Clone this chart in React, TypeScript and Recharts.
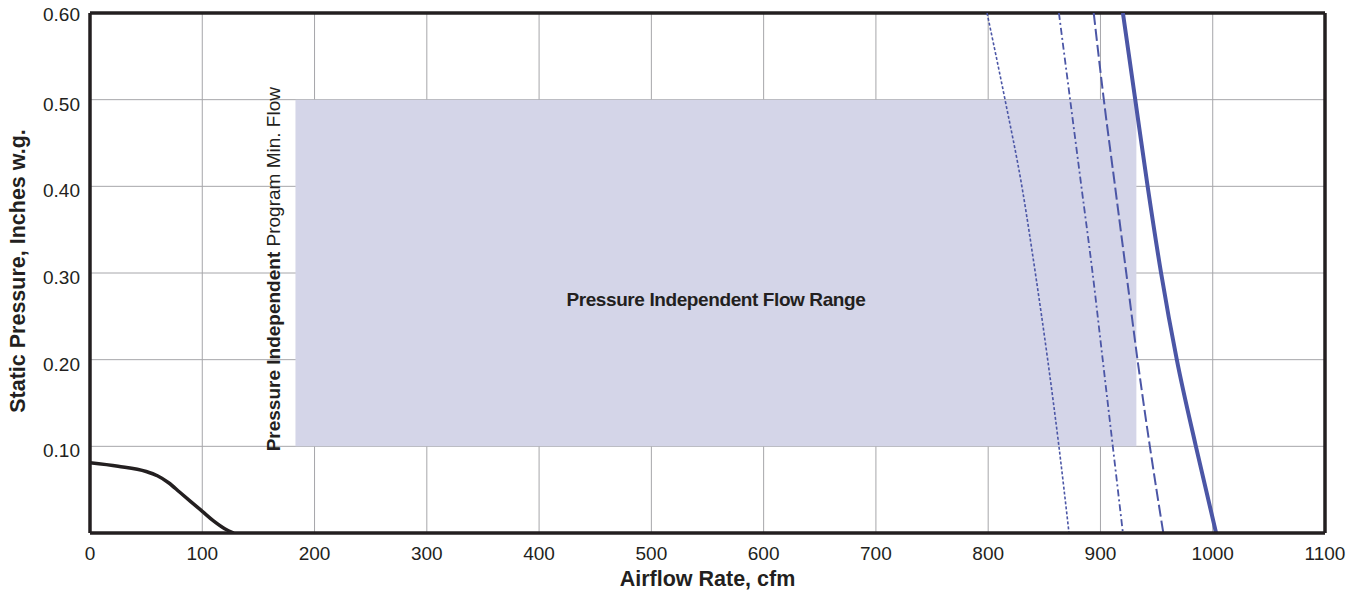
import { LineChart, Line, XAxis, YAxis, CartesianGrid, ReferenceArea, ReferenceLine } from 'recharts';

const FONT = '"Liberation Sans", Arial, Helvetica, sans-serif';
const INK = '#231f20';
const BLUE = '#4b56a6';

const xTicks = [0, 100, 200, 300, 400, 500, 600, 700, 800, 900, 1000, 1100];
const yTicks = [0.1, 0.2, 0.3, 0.4, 0.5, 0.6];

// Ventilator-Kurve (schwarz)
const fanFlow = [0, 25, 50, 60, 70, 80, 90, 100, 110, 120, 128];
const fanPressure = [0.081, 0.077, 0.071, 0.066, 0.058, 0.047, 0.036, 0.025, 0.014, 0.005, 0];

// blaue Kurven: Druck-Stufen und zugehörige Luftmenge
const pressureLevels = [0.6, 0.5, 0.4, 0.3, 0.2, 0.1, 0];
const dottedFlow = [799, 815, 830, 842, 853, 863, 872];
const dashDotFlow = [863, 873, 883, 893, 902, 911, 920];
const dashedFlow = [894, 903, 913, 923, 933, 944, 956];
const solidFlow = [920, 931, 942, 954, 968, 985, 1003];

// Bereich Pressure Independent
const rangeMinFlow = 183;
const rangeMaxFlow = 932;
const rangeLowP = 0.1;
const rangeHighP = 0.5;

const toPoints = (xs: number[], ys: number[]) => xs.map((x, i) => ({ x, y: ys[i] }));

const fanData = toPoints(fanFlow, fanPressure);
const dottedData = toPoints(dottedFlow, pressureLevels);
const dashDotData = toPoints(dashDotFlow, pressureLevels);
const dashedData = toPoints(dashedFlow, pressureLevels);
const solidData = toPoints(solidFlow, pressureLevels);

const RangeLabels = (props: any) => {
  const { x, y, width, height } = props.viewBox;
  const vx = x - 15;
  const vy = y + height + 5;
  return (
    <g fontFamily={FONT} fill={INK}>
      <text x={x + width / 2} y={y + height * 0.595} textAnchor="middle" fontSize={19} fontWeight="bold" letterSpacing={-0.4}>
        Pressure Independent Flow Range
      </text>
      <text x={vx} y={vy} transform={`rotate(-90 ${vx} ${vy})`} fontSize={19}>
        <tspan fontWeight="bold">Pressure Independent</tspan>
        <tspan fontWeight="normal"> Program Min. Flow</tspan>
      </text>
    </g>
  );
};

const XTick = (props: any) => {
  const { x, y, payload } = props;
  return (
    <text x={x} y={y + 27} textAnchor="middle" fontFamily={FONT} fontSize={19} fill={INK}>
      {payload.value}
    </text>
  );
};

const YTick = (props: any) => {
  const { x, y, payload, index } = props;
  const shift = index === yTicks.length - 1 ? 8 : 11;
  return (
    <text x={x - 10} y={y + shift} textAnchor="end" fontFamily={FONT} fontSize={19} fill={INK}>
      {Number(payload.value).toFixed(2)}
    </text>
  );
};

const XTitle = (props: any) => {
  const { x, y, width } = props.viewBox;
  return (
    <text x={x + width / 2} y={y + 53} textAnchor="middle" fontFamily={FONT} fontSize={21.5} fontWeight="bold" fill={INK}>
      Airflow Rate, cfm
    </text>
  );
};

const YTitle = (props: any) => {
  const { x, y, height } = props.viewBox;
  const cx = x + 15;
  const cy = y + height / 2 - 2;
  return (
    <text
      x={cx}
      y={cy}
      transform={`rotate(-90 ${cx} ${cy})`}
      textAnchor="middle"
      fontFamily={FONT}
      fontSize={21.5}
      fontWeight="bold"
      fill={INK}
    >
      Static Pressure, Inches w.g.
    </text>
  );
};

export default function App() {
  return (
    <div style={{ position: 'absolute', left: 0, top: 0, background: '#fff' }}>
      <LineChart width={1358} height={597} margin={{ top: 13, right: 33, bottom: 14, left: 10 }}>
        <ReferenceArea
          x1={rangeMinFlow}
          x2={rangeMaxFlow}
          y1={rangeLowP}
          y2={rangeHighP}
          fill="#d4d5e8"
          fillOpacity={1}
          stroke="none"
          label={<RangeLabels />}
        />
        <CartesianGrid stroke="#a6a6aa" strokeWidth={1} />
        <XAxis
          type="number"
          dataKey="x"
          domain={[0, 1100]}
          ticks={xTicks}
          allowDataOverflow
          height={50}
          tickLine={false}
          tickSize={0}
          tickMargin={0}
          axisLine={{ stroke: INK, strokeWidth: 3.5 }}
          tick={<XTick />}
          label={<XTitle />}
        />
        <YAxis
          type="number"
          dataKey="y"
          domain={[0, 0.6]}
          ticks={yTicks}
          allowDataOverflow
          width={80}
          tickLine={false}
          tickSize={0}
          tickMargin={0}
          axisLine={{ stroke: INK, strokeWidth: 3.5 }}
          tick={<YTick />}
          label={<YTitle />}
        />
        <ReferenceLine y={0.6} stroke={INK} strokeWidth={3.5} />
        <ReferenceLine x={1100} stroke={INK} strokeWidth={3.5} />
        <Line data={fanData} dataKey="y" type="monotone" stroke={INK} strokeWidth={3.5} dot={false} isAnimationActive={false} />
        <Line data={dottedData} dataKey="y" type="monotone" stroke={BLUE} strokeWidth={1.6} strokeDasharray="3 2" dot={false} isAnimationActive={false} />
        <Line data={dashDotData} dataKey="y" type="monotone" stroke={BLUE} strokeWidth={1.8} strokeDasharray="7 3 2 3" dot={false} isAnimationActive={false} />
        <Line data={dashedData} dataKey="y" type="monotone" stroke={BLUE} strokeWidth={2} strokeDasharray="12 4" dot={false} isAnimationActive={false} />
        <Line data={solidData} dataKey="y" type="monotone" stroke={BLUE} strokeWidth={4} dot={false} isAnimationActive={false} />
      </LineChart>
    </div>
  );
}
